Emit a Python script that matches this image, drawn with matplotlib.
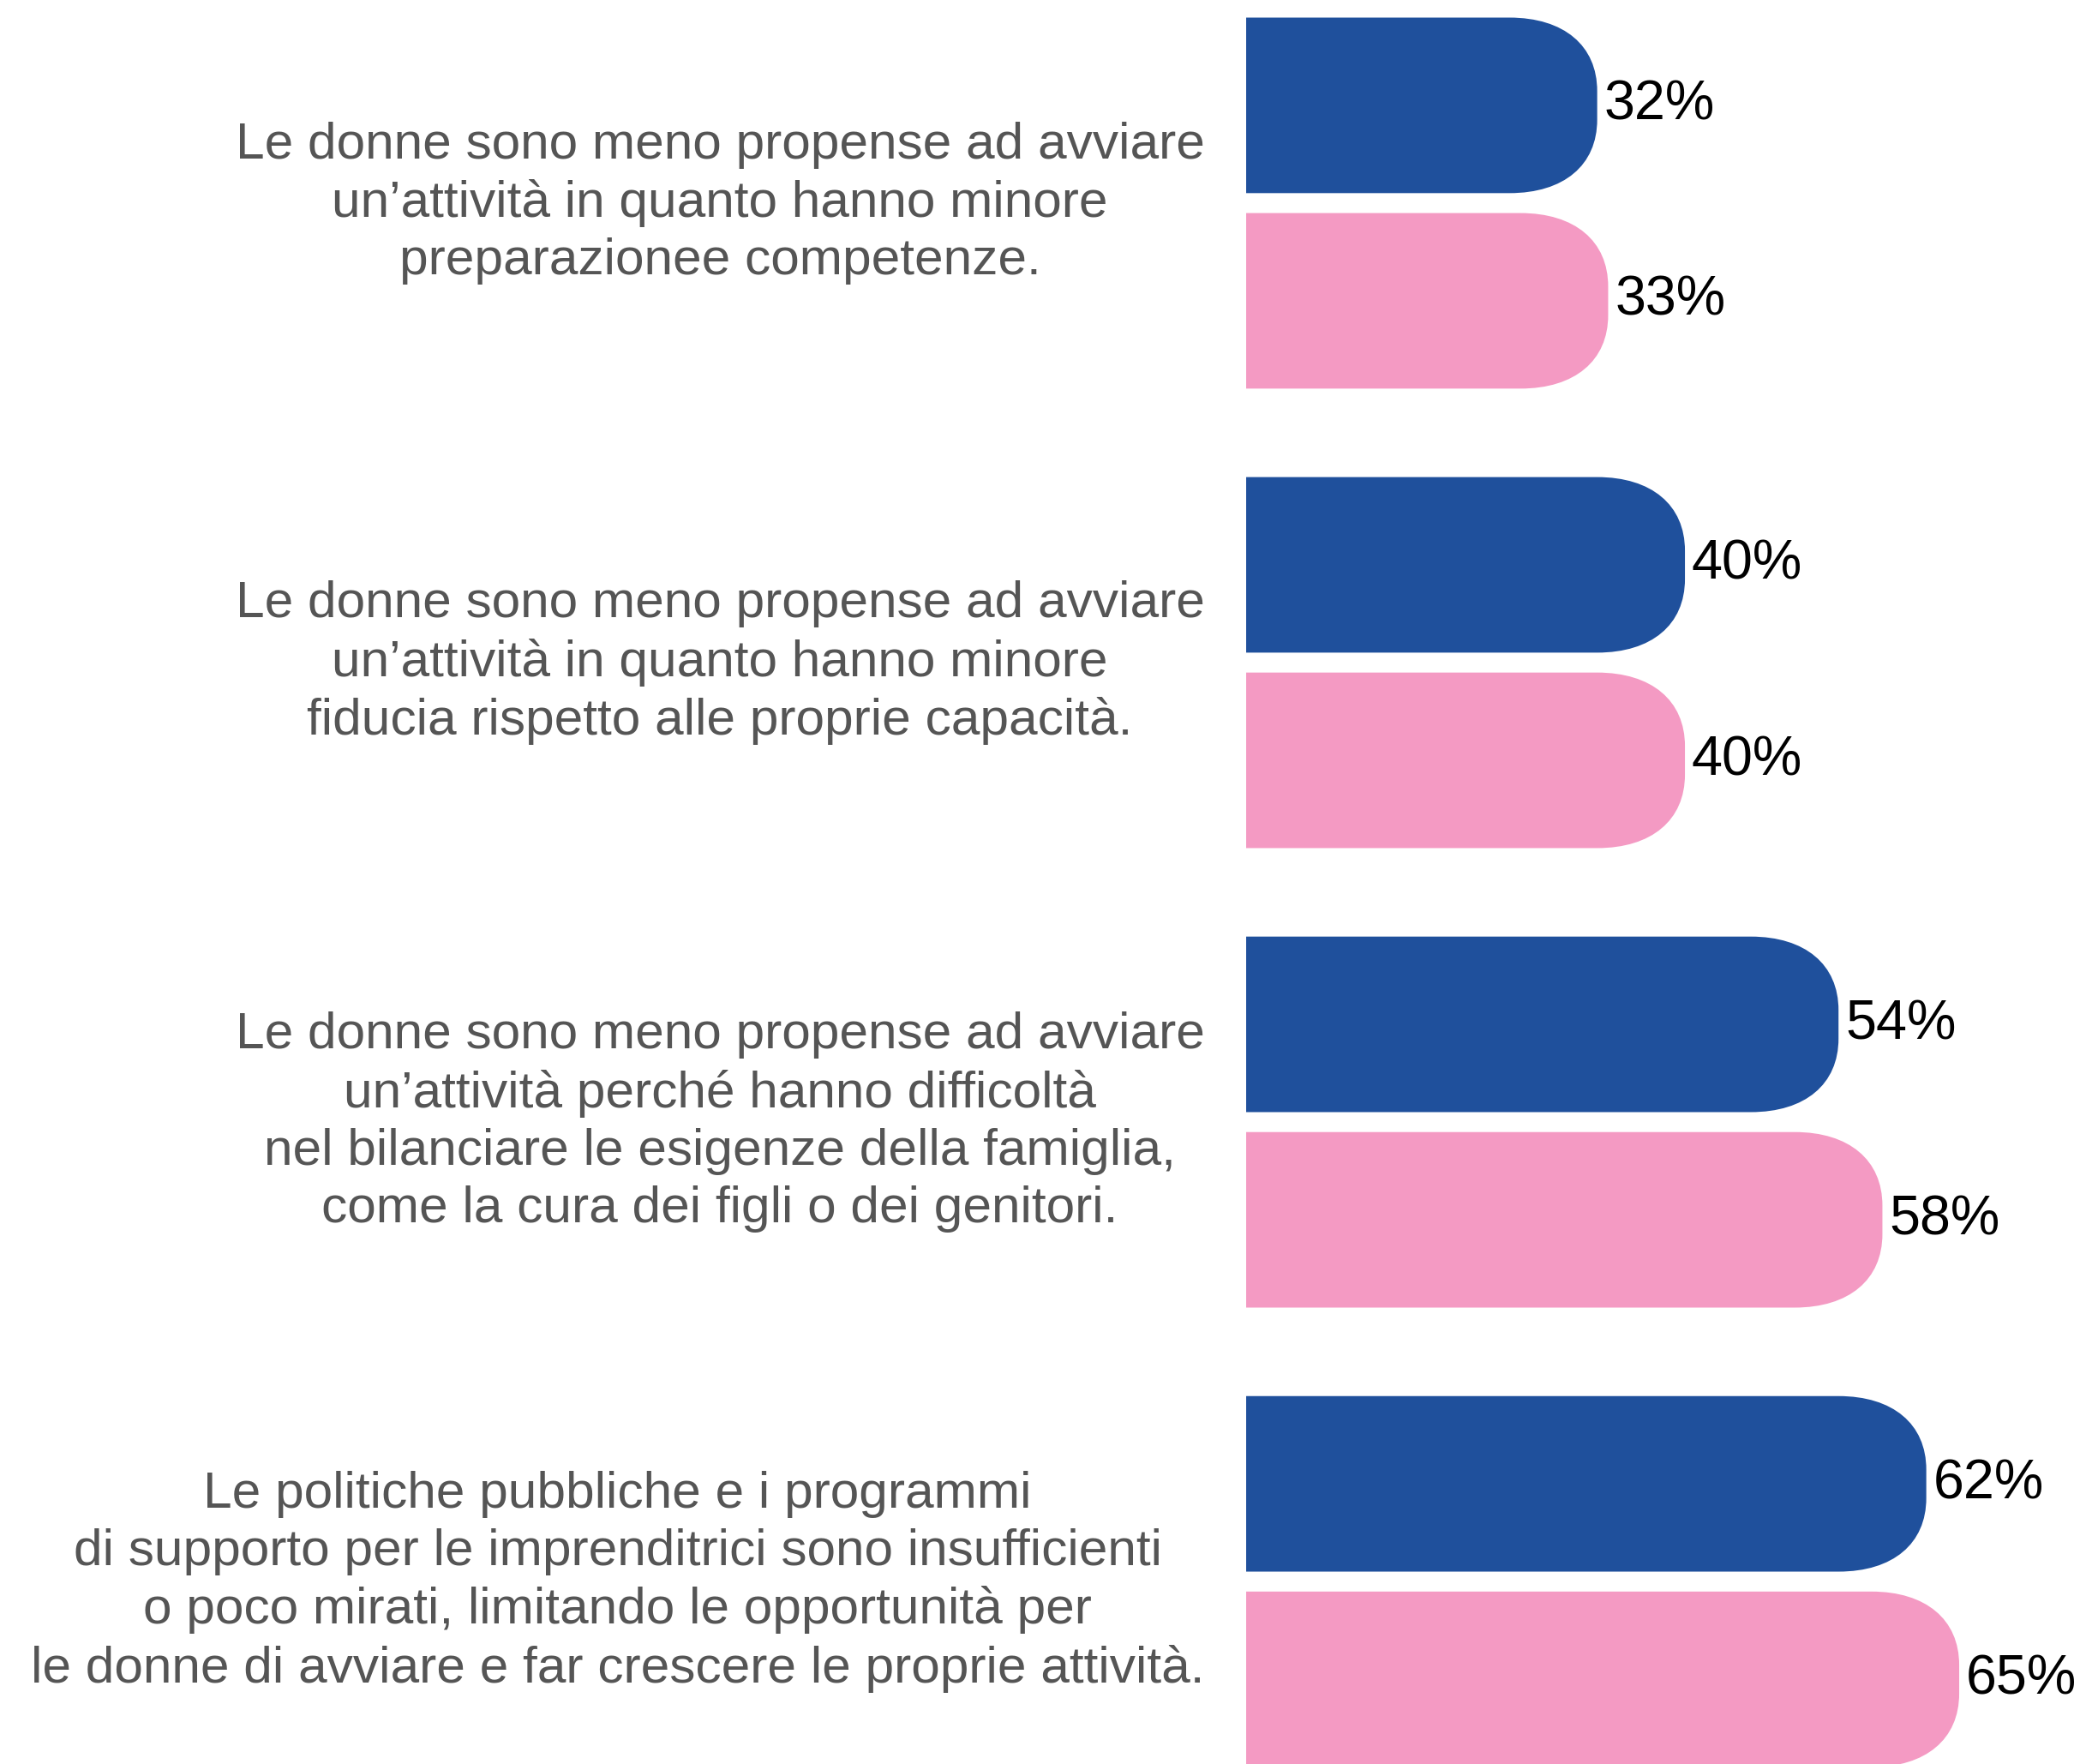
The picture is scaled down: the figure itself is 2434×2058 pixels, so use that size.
import numpy as np
import matplotlib.pyplot as plt
from matplotlib.path import Path
from matplotlib.patches import PathPatch

# data
categories = [
    "Le donne sono meno propense ad avviare\nun\u2019attivit\u00e0 in quanto hanno minore\npreparazionee competenze.",
    "Le donne sono meno propense ad avviare\nun\u2019attivit\u00e0 in quanto hanno minore\nfiducia rispetto alle proprie capacit\u00e0.",
    "Le donne sono meno propense ad avviare\nun\u2019attivit\u00e0 perch\u00e9 hanno difficolt\u00e0\nnel bilanciare le esigenze della famiglia,\ncome la cura dei figli o dei genitori.",
    "Le politiche pubbliche e i programmi\ndi supporto per le imprenditrici sono insufficienti\no poco mirati, limitando le opportunit\u00e0 per\nle donne di avviare e far crescere le proprie attivit\u00e0.",
]
blue_vals = [32, 40, 54, 62]
pink_vals = [33, 40, 58, 65]

blue = "#1f509c"
pink = "#f49ac3"

plt.rcParams['font.family'] = ['Liberation Sans', 'DejaVu Sans']

fig = plt.figure(figsize=(24.34, 20.58), dpi=100)
ax = fig.add_axes([0, 0, 1, 1])
ax.set_xlim(-113.6, 76.56)
ax.set_ylim(3.397, -0.442)
ax.axis('off')

bar_h = 0.382
off = 0.2127
rx = 8.0
ry = 0.16
k = 0.62


def rounded_bar(y, w, color):
    y0 = y - bar_h / 2
    y1 = y + bar_h / 2
    verts = [
        (0, y0), (w - rx, y0),
        (w - rx + k * rx, y0), (w, y0 + ry - k * ry), (w, y0 + ry),
        (w, y1 - ry),
        (w, y1 - ry + k * ry), (w - rx + k * rx, y1), (w - rx, y1),
        (0, y1), (0, y0),
    ]
    codes = [Path.MOVETO, Path.LINETO,
             Path.CURVE4, Path.CURVE4, Path.CURVE4,
             Path.LINETO,
             Path.CURVE4, Path.CURVE4, Path.CURVE4,
             Path.LINETO, Path.CLOSEPOLY]
    ax.add_patch(PathPatch(Path(verts, codes), facecolor=color,
                           edgecolor='none'))


for i, (cat, b, p) in enumerate(zip(categories, blue_vals, pink_vals)):
    rounded_bar(i - off, b, blue)
    rounded_bar(i + off, p, pink)
    ax.text(b + 0.6, i - off, f"{b}%", fontsize=46.5, color='black',
            va='center', ha='left')
    ax.text(p + 0.6, i + off, f"{p}%", fontsize=46.5, color='black',
            va='center', ha='left')
    ax.text(-3.8, i, cat, fontsize=43.5, color='#555555', ha='right',
            va='center', multialignment='center', linespacing=1.28)

fig.savefig('out.png', dpi=100)
